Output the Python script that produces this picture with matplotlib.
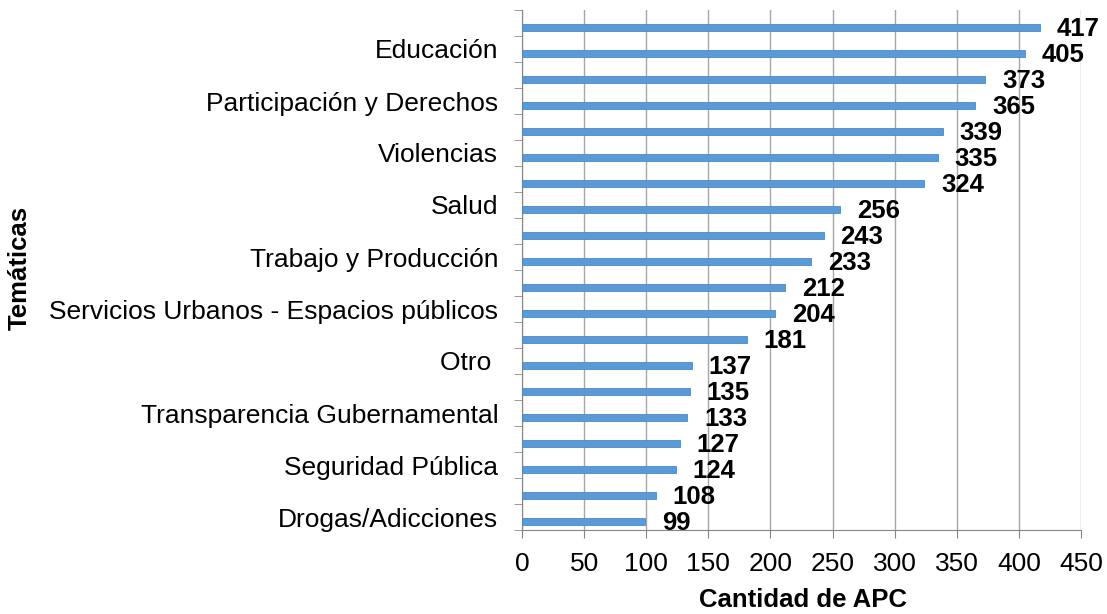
import matplotlib.pyplot as plt

# data, top to bottom as in the chart
valores = [417, 405, 373, 365, 339, 335, 324, 256, 243, 233,
           212, 204, 181, 137, 135, 133, 127, 124, 108, 99]
etiquetas = ["", "Educación", "", "Participación y Derechos", "", "Violencias",
             "", "Salud", "", "Trabajo y Producción", "",
             "Servicios Urbanos - Espacios públicos", "", "Otro ", "",
             "Transparencia Gubernamental", "", "Seguridad Pública", "",
             "Drogas/Adicciones"]
xticks = [0, 50, 100, 150, 200, 250, 300, 350, 400, 450]

plt.rcParams['font.family'] = ['Liberation Sans', 'DejaVu Sans']

fig = plt.figure(figsize=(11.07, 6.14), dpi=100)
ax = fig.add_axes([522 / 1107, 1 - 530 / 614, (1081 - 522) / 1107, 520 / 614])

n = len(valores)
pos = list(range(n))[::-1]
# bars sit a little below the middle of each slot
barpos = [p - 0.17 for p in pos]
ax.barh(barpos, valores, height=0.3, color='#5b9bd5', edgecolor='#4a89c8',
        linewidth=0.6, zorder=3)

for p, v in zip(barpos, valores):
    ax.annotate(str(v), (v, p), xytext=(12, -1), textcoords='offset points',
                ha='left', va='center', fontsize=18.5, fontweight='bold',
                zorder=4)

ax.set_xlim(0, 450)
ax.set_ylim(-0.5, n - 0.5)
ax.set_xticks(xticks)
ax.tick_params(axis='x', labelsize=19, length=6, color='#868686', pad=10)

# labels on categories, ticks between them
ax.set_yticks(pos)
ax.set_yticklabels(etiquetas, fontsize=19)
ax.tick_params(axis='y', which='major', length=0, pad=17)
ax.set_yticks([i - 0.5 for i in range(n + 1)], minor=True)
ax.tick_params(axis='y', which='minor', length=6, color='#868686')

ax.grid(axis='x', color='#a6a6a6', linewidth=1, zorder=0)
for s in ['top', 'right']:
    ax.spines[s].set_visible(False)
ax.spines['left'].set_color('#868686')
ax.spines['bottom'].set_color('#868686')

fig.text(803 / 1107, 1 - 600 / 614, 'Cantidad de APC', fontsize=18.5,
         fontweight='bold', ha='center', va='center')
fig.text(20 / 1107, 1 - 268 / 614, 'Temáticas', rotation=90, fontsize=18.5,
         fontweight='bold', ha='center', va='center')

plt.savefig('out.png', dpi=100)
